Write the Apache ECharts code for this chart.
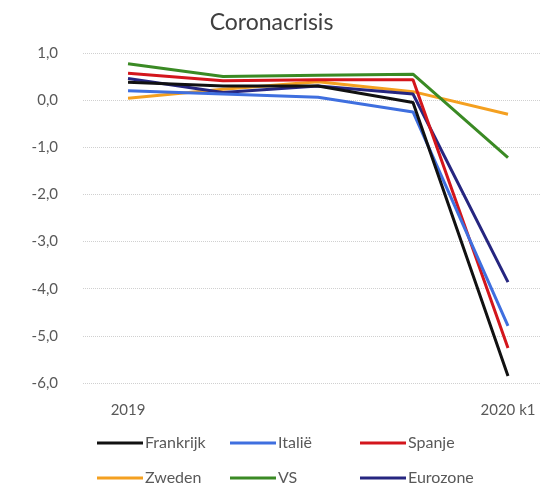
<!DOCTYPE html>
<html>
<head>
<meta charset="utf-8">
<script src="https://cdn.jsdelivr.net/npm/echarts@6/dist/echarts.min.js"></script>
<style>
  html, body { margin: 0; padding: 0; background: #fff; }
  #chart { width: 543px; height: 488px; }
</style>
</head>
<body>
<div id="chart"></div>
<script>
// kwartalen: 2019 k1 .. 2020 k1
const categories = ["2019", "", "", "", "2020 k1"];
const frankrijk = [0.38, 0.30, 0.30, -0.05, -5.85];
const italie = [0.20, 0.13, 0.06, -0.25, -4.79];
const spanje = [0.57, 0.41, 0.43, 0.43, -5.26];
const zweden = [0.04, 0.23, 0.39, 0.18, -0.30];
const vs = [0.77, 0.50, 0.53, 0.55, -1.22];
const eurozone = [0.46, 0.16, 0.30, 0.13, -3.86];
const legendNames = ["Frankrijk", "Italië", "Spanje", "Zweden", "VS", "Eurozone"];

const font = "Lato";
const grey = "#595959";

function pts(arr) {
  return arr.map((v, i) => [i, v]);
}

function line(name, data, color) {
  return {
    name: name,
    type: "line",
    data: pts(data),
    symbol: "none",
    lineStyle: { width: 3, color: color },
    itemStyle: { color: color },
  };
}

// 3 kolommen, 2 rijen
const colLeft = [97, 230, 360];
const rowTop = [435, 470];
const legends = legendNames.map((n, i) => ({
  left: colLeft[i % 3],
  top: rowTop[Math.floor(i / 3)],
  padding: 0,
  icon: "rect",
  itemWidth: 46,
  itemHeight: 3,
  itemGap: 0,
  textStyle: { fontFamily: font, fontSize: 16, color: grey, padding: [0, 0, 0, -3] },
  data: [n],
}));

const chart = echarts.init(document.getElementById("chart"));
chart.setOption({
  animation: false,
  title: {
    text: "Coronacrisis",
    left: "center",
    top: 6,
    textStyle: { fontFamily: font, fontSize: 23, fontWeight: "normal", color: "#404040" },
  },
  grid: { left: 83, right: 3, top: 53, bottom: 105 },
  xAxis: {
    type: "value",
    min: -0.474,
    max: 4.337,
    splitLine: { show: false },
    axisLine: { show: false },
    axisTick: { show: false },
    axisLabel: {
      customValues: [0, 4],
      margin: 20,
      fontFamily: font,
      fontSize: 15,
      color: grey,
      formatter: (v) => categories[Math.round(v)] || "",
    },
  },
  yAxis: {
    type: "value",
    min: -6,
    max: 1,
    interval: 1,
    axisLine: { show: false },
    axisTick: { show: false },
    splitLine: { lineStyle: { color: "#d0d0d0", type: "dotted", width: 1 } },
    axisLabel: {
      margin: 25,
      fontFamily: font,
      fontSize: 15,
      color: grey,
      formatter: (v) => v.toFixed(1).replace(".", ","),
    },
  },
  legend: legends,
  series: [
    line("Zweden", zweden, "#f4a020"),
    line("VS", vs, "#3a8a24"),
    line("Eurozone", eurozone, "#262680"),
    line("Spanje", spanje, "#d3161c"),
    line("Italië", italie, "#3f6fdf"),
    line("Frankrijk", frankrijk, "#111111"),
  ],
});
</script>
</body>
</html>
